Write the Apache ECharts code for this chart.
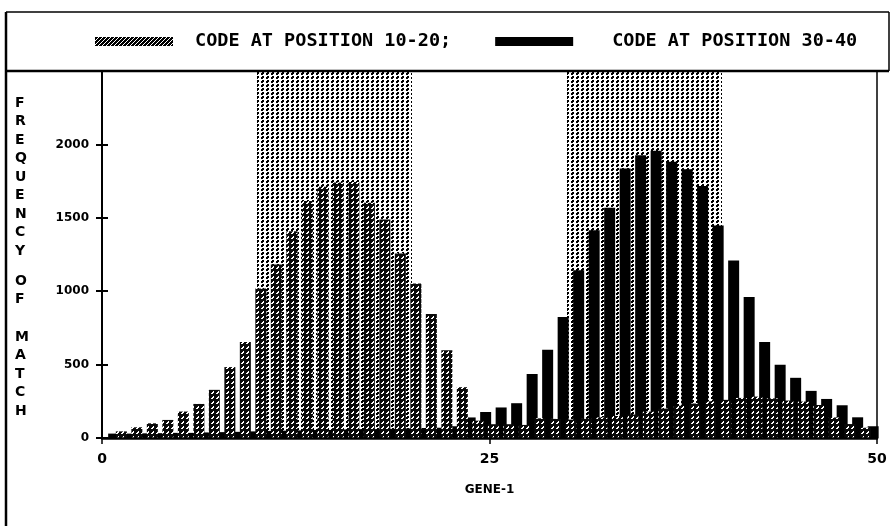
<!DOCTYPE html>
<html><head><meta charset="utf-8">
<script src="https://cdn.jsdelivr.net/npm/echarts@6/dist/echarts.min.js"></script>
<style>html,body{margin:0;padding:0;background:#fff}#c{width:891px;height:526px}</style>
</head><body><div id="c"></div>
<script>
// ---- data ----
const positions = [1,2,3,4,5,6,7,8,9,10,11,12,13,14,15,16,17,18,19,20,21,22,23,24,25,
  26,27,28,29,30,31,32,33,34,35,36,37,38,39,40,41,42,43,44,45,46,47,48,49,50];
const hatchedValues = [45,73,100,123,180,232,328,483,654,1018,1182,1409,1614,1712,1740,1744,1603,1489,1257,1052,
  845,597,346,118,94,94,89,134,130,125,130,140,150,160,180,200,220,235,250,260,
  273,282,270,255,248,225,140,95,70,null];
const blackValues = [30,30,32,33,35,35,38,40,42,45,48,50,52,55,55,58,60,60,62,65,
  68,70,80,140,177,208,237,436,601,824,1143,1416,1569,1835,1926,1956,1881,1831,1716,1448,
  1209,961,654,499,410,321,266,223,141,80];
const xTicks = [0, 25, 50];
const yTicks = [0, 500, 1000, 1500, 2000];
const shadedRanges = [[10, 20], [30, 40]];
const seriesNames = ['CODE AT POSITION 10-20', 'CODE AT POSITION 30-40'];
const yAxisTitle = ['FREQUENCY', 'OF', 'MATCH'];
const xAxisTitle = 'GENE-1';

// ---- patterns ----
function makePattern(w, h, bg, fg, pixels) {
  const c = document.createElement('canvas');
  c.width = w; c.height = h;
  const g = c.getContext('2d');
  g.fillStyle = bg; g.fillRect(0, 0, w, h);
  g.fillStyle = fg;
  pixels.forEach(([x, y]) => g.fillRect(x, y, 1, 1));
  return { image: c, repeat: 'repeat' };
}
const barHatch = makePattern(5, 5, '#0a0a0a', '#fff', [[3,1],[2,2],[3,2],[1,3],[2,3]]);
const legendHatch = makePattern(4, 4, '#000', '#fff', [[0,3],[1,2],[2,1],[3,0]]);
const stipple = makePattern(5, 4, '#fff', '#000', [[2,0],[3,0],[1,1],[2,1],[3,1],[1,2],[2,2]]);

const FONT = 'DejaVu Sans';
const chart = echarts.init(document.getElementById('c'), null, { renderer: 'canvas' });
chart.setOption({
  animation: false,
  backgroundColor: '#fff',
  grid: { left: 102, right: 14, top: 71, bottom: 88, containLabel: false },
  legend: {
    left: 90, top: 27, itemWidth: 78, itemHeight: 9, itemGap: 44, icon: 'rect',
    selectedMode: false,
    textStyle: { fontFamily: 'DejaVu Sans Mono', fontWeight: 'bold', fontSize: 18.5, color: '#000' },
    formatter: n => n === seriesNames[0] ? n + ';' : n,
    data: [
      { name: seriesNames[0], itemStyle: { color: legendHatch }, textStyle: { padding: [0, 0, 0, 17] } },
      { name: seriesNames[1], itemStyle: { color: '#000' }, textStyle: { padding: [0, 0, 0, 34] } }
    ]
  },
  xAxis: {
    type: 'value', min: 0, max: 50, interval: 25, z: 10,
    name: xAxisTitle, nameLocation: 'middle', nameGap: 46,
    nameTextStyle: { fontFamily: FONT, fontWeight: 'bold', fontSize: 12, color: '#000' },
    axisLine: { show: true, lineStyle: { color: '#000', width: 2.5 } },
    axisTick: { show: true, length: 6, lineStyle: { color: '#000', width: 1.5 }, customValues: xTicks },
    axisLabel: { customValues: xTicks, color: '#000', fontFamily: FONT, fontWeight: 'bold', fontSize: 14, margin: 14 },
    splitLine: { show: false }
  },
  yAxis: [{
    type: 'value', min: 0, max: 2500, interval: 500, z: 10,
    axisLine: { show: true, lineStyle: { color: '#000', width: 2 } },
    axisTick: { show: true, length: 6, lineStyle: { color: '#000', width: 2 }, customValues: yTicks },
    axisLabel: { customValues: yTicks, formatter: v => String(v), color: '#000', fontFamily: FONT, fontWeight: 'bold', fontSize: 12, margin: 13 },
    splitLine: { show: false }
  }, {
    type: 'value', min: 0, max: 2500, interval: 500, position: 'left', z: 10,
    axisLine: { show: false },
    axisTick: { show: true, inside: true, length: 6, lineStyle: { color: '#000', width: 2 }, customValues: yTicks },
    axisLabel: { show: false },
    splitLine: { show: false }
  }],
  series: [
    {
      name: seriesNames[1], type: 'bar', z: 3, barWidth: 11, barGap: '-30%',
      data: positions.map((p, i) => [p, blackValues[i]]),
      itemStyle: { color: '#000' }, emphasis: { disabled: true }
    },
    {
      name: seriesNames[0], type: 'bar', z: 3, barWidth: 11,
      data: positions.map((p, i) => [p, hatchedValues[i]]),
      itemStyle: { color: barHatch }, emphasis: { disabled: true }
    },
    {
      type: 'line', z: 1, data: [], silent: true,
      markArea: {
        silent: true, itemStyle: { color: stipple },
        data: shadedRanges.map(r => [{ xAxis: r[0] }, { xAxis: r[1] }])
      }
    }
  ],
  graphic: [
    { type: 'line', shape: { x1: 6, y1: 12, x2: 6, y2: 526 }, style: { stroke: '#000', lineWidth: 2.5 } },
    { type: 'line', shape: { x1: 6, y1: 12, x2: 889, y2: 12 }, style: { stroke: '#000', lineWidth: 1.5 } },
    { type: 'line', shape: { x1: 889, y1: 12, x2: 889, y2: 71 }, style: { stroke: '#000', lineWidth: 1.5 } },
    { type: 'line', shape: { x1: 6, y1: 71, x2: 889, y2: 71 }, style: { stroke: '#000', lineWidth: 2.5 }, z: 20 },
    { type: 'line', shape: { x1: 877, y1: 71, x2: 877, y2: 438 }, style: { stroke: '#000', lineWidth: 1.5 }, z: 20 },
    { type: 'text', left: 15, top: 94, style: { text: yAxisTitle[0].split('').join('\n'), fontFamily: FONT, fontWeight: 'bold', fontSize: 14, lineHeight: 18.5, fill: '#000', align: 'center' } },
    { type: 'text', left: 15, top: 272, style: { text: yAxisTitle[1].split('').join('\n'), fontFamily: FONT, fontWeight: 'bold', fontSize: 14, lineHeight: 18.5, fill: '#000', align: 'center' } },
    { type: 'text', left: 15, top: 328, style: { text: yAxisTitle[2].split('').join('\n'), fontFamily: FONT, fontWeight: 'bold', fontSize: 14, lineHeight: 18.5, fill: '#000', align: 'center' } }
  ]
});
</script></body></html>
